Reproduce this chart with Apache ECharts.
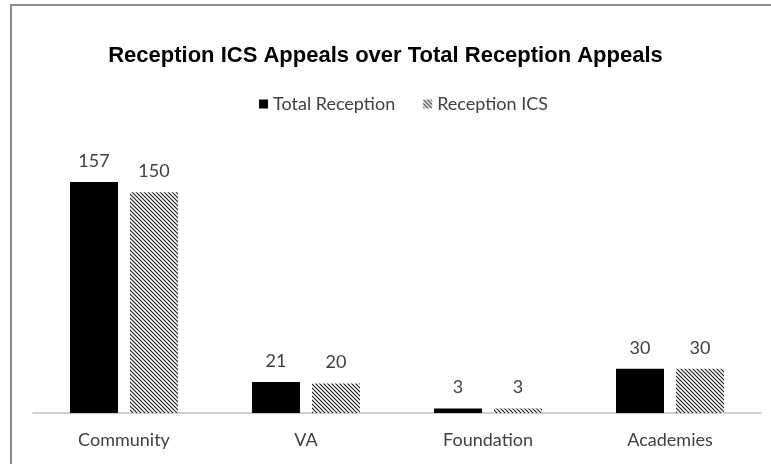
<!DOCTYPE html>
<html>
<head>
<meta charset="utf-8">
<script src="https://cdn.jsdelivr.net/npm/echarts@6/dist/echarts.min.js"></script>
<style>
  html, body { margin: 0; padding: 0; background: #fff; }
  #main { width: 771px; height: 464px; }
</style>
</head>
<body>
<div id="main"></div>
<script>
// 数据
var categories = ['Community', 'VA', 'Foundation', 'Academies'];
var totalReception = [157, 21, 3, 30];
var receptionICS = [150, 20, 3, 30];
var seriesNames = ['Total Reception', 'Reception ICS'];

// 斜线填充
function makeStripes() {
    var c = document.createElement('canvas');
    c.width = 4;
    c.height = 4;
    var ctx = c.getContext('2d');
    ctx.fillStyle = '#ffffff';
    ctx.fillRect(0, 0, 4, 4);
    ctx.strokeStyle = '#222222';
    ctx.lineWidth = 1.2;
    ctx.beginPath();
    ctx.moveTo(-1, -1); ctx.lineTo(5, 5);
    ctx.moveTo(-1, 3); ctx.lineTo(1, 5);
    ctx.moveTo(3, -1); ctx.lineTo(5, 1);
    ctx.stroke();
    return c;
}

var myChart = echarts.init(document.getElementById('main'));
var yMax = 180;
var pxPerUnit = 231 / 157;

var labelStyle = {
    show: true,
    position: 'top',
    distance: 12,
    fontFamily: 'Lato',
    fontSize: 18,
    color: '#404040'
};

var option = {
    animation: false,
    backgroundColor: '#fff',
    title: {
        text: 'Reception ICS Appeals over Total Reception Appeals',
        left: 'center',
        top: 40,
        textStyle: {
            fontFamily: 'Liberation Sans',
            fontWeight: 'bold',
            fontSize: 22,
            color: '#000'
        }
    },
    legend: {
        data: seriesNames,
        top: 90,
        left: 254,
        itemWidth: 9,
        itemHeight: 9,
        itemGap: 28,
        icon: 'rect',
        textStyle: {
            fontFamily: 'Lato',
            fontSize: 18,
            color: '#404040'
        }
    },
    grid: {
        left: 33,
        right: 10,
        bottom: 51,
        top: 413 - yMax * pxPerUnit
    },
    xAxis: {
        type: 'category',
        data: categories,
        axisTick: { show: false },
        axisLine: { lineStyle: { color: '#bfbfbf', width: 1.5 } },
        axisLabel: {
            fontFamily: 'Lato',
            fontSize: 18,
            color: '#404040',
            margin: 18
        }
    },
    yAxis: {
        type: 'value',
        min: 0,
        max: yMax,
        show: false,
        splitLine: { show: false }
    },
    series: [
        {
            name: seriesNames[0],
            type: 'bar',
            data: totalReception,
            barWidth: 48,
            barGap: '25%',
            itemStyle: { color: '#000' },
            label: labelStyle
        },
        {
            name: seriesNames[1],
            type: 'bar',
            data: receptionICS,
            barWidth: 48,
            itemStyle: { color: { image: makeStripes(), repeat: 'repeat' } },
            label: labelStyle
        }
    ],
    graphic: [
        {
            type: 'rect',
            shape: { x: 11, y: 5, width: 900, height: 600 },
            style: { fill: 'none', stroke: '#8c8c8c', lineWidth: 2 },
            silent: true
        }
    ]
};

myChart.setOption(option);
</script>
</body>
</html>
